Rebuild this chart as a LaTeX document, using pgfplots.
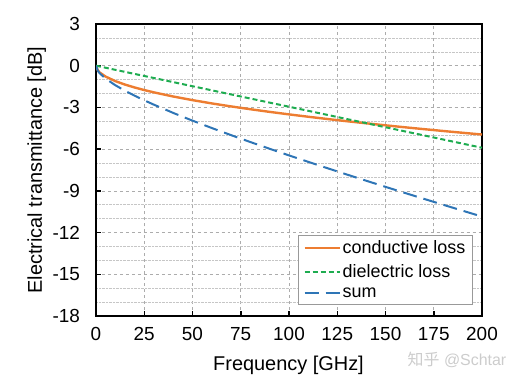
\documentclass[border=0pt]{standalone}
\usepackage{fontspec}
\setmainfont{Liberation Sans}
\newfontfamily\cjk{Noto Sans CJK SC}
\usepackage{pgfplots}
\pgfplotsset{compat=1.18}
\definecolor{corange}{RGB}{237,125,49}
\definecolor{cgreen}{RGB}{30,172,80}
\definecolor{cblue}{RGB}{46,117,182}
\begin{document}
\begin{tikzpicture}
\useasboundingbox (-96bp,-68bp) rectangle (424bp,316bp);
\begin{axis}[
  at={(0,0)}, anchor=south west,
  scale only axis, width=386bp, height=292bp,
  xmin=0, xmax=200, ymin=-18, ymax=3,
  xtick={0,25,...,200}, ytick={-18,-15,...,3},
  minor y tick num=2,
  grid=both,
  major grid style={dashed, gray!65, line width=0.6bp},
  minor grid style={densely dotted, gray!45, line width=0.6bp},
  tick align=inside, tick pos=left,
  major tick length=5bp, minor tick length=0bp,
  tick style={black, line width=1.5bp},
  axis line style={black, line width=1.6bp},
  /pgf/number format/assume math mode=true,
  ticklabel style={font=\fontsize{19}{21}\selectfont},
  yticklabel style={xshift=-12.5bp},
  xticklabel style={yshift=-7.5bp},
  legend cell align=left,
  legend style={at={(rel axis cs:0.976,0.038)}, anchor=south east,
    draw=gray!80, line width=0.8bp, font=\fontsize{18}{20}\selectfont,
    inner xsep=5bp, inner ysep=3.5bp, row sep=5bp},
  legend image code/.code={\draw[#1] (0bp,0bp) -- (35bp,0bp);},
]
\addplot[corange, line width=2.4bp] coordinates {
(0,0) (1,-0.350) (2,-0.495) (5,-0.783) (10,-1.107) (15,-1.356) (20,-1.565)
(25,-1.750) (30,-1.917) (40,-2.214) (50,-2.475) (60,-2.711) (70,-2.928)
(80,-3.130) (90,-3.320) (100,-3.500) (110,-3.671) (120,-3.834) (130,-3.991)
(140,-4.141) (150,-4.287) (160,-4.427) (170,-4.563) (180,-4.696) (190,-4.824)
(200,-4.950)};
\addlegendentry{conductive loss}
\addplot[cgreen, line width=2bp, dash pattern=on 5bp off 3bp] coordinates {
(0,0) (200,-5.9)};
\addlegendentry{dielectric loss}
\addplot[cblue, line width=2bp, dash pattern=on 14bp off 7bp] coordinates {
(0,0) (1,-0.380) (2,-0.554) (5,-0.931) (10,-1.402) (15,-1.799) (20,-2.155)
(25,-2.488) (30,-2.802) (40,-3.394) (50,-3.950) (60,-4.481) (70,-4.993)
(80,-5.490) (90,-5.975) (100,-6.450) (110,-6.916) (120,-7.374) (130,-7.826)
(140,-8.271) (150,-8.712) (160,-9.147) (170,-9.578) (180,-10.006) (190,-10.429)
(200,-10.850)};
\addlegendentry{sum}
\end{axis}
\node[anchor=base, font=\fontsize{20}{22}\selectfont] at (192.5bp,-54bp) {Frequency [GHz]};
\node[anchor=base, rotate=90, font=\fontsize{20}{22}\selectfont] at (-54bp,146bp) {Electrical transmittance [dB]};
\node[anchor=center, text=gray!40, font=\fontsize{16}{18}\selectfont] at (361bp,-44bp) {{\cjk 知乎} @Schtar};
\end{tikzpicture}
\end{document}
